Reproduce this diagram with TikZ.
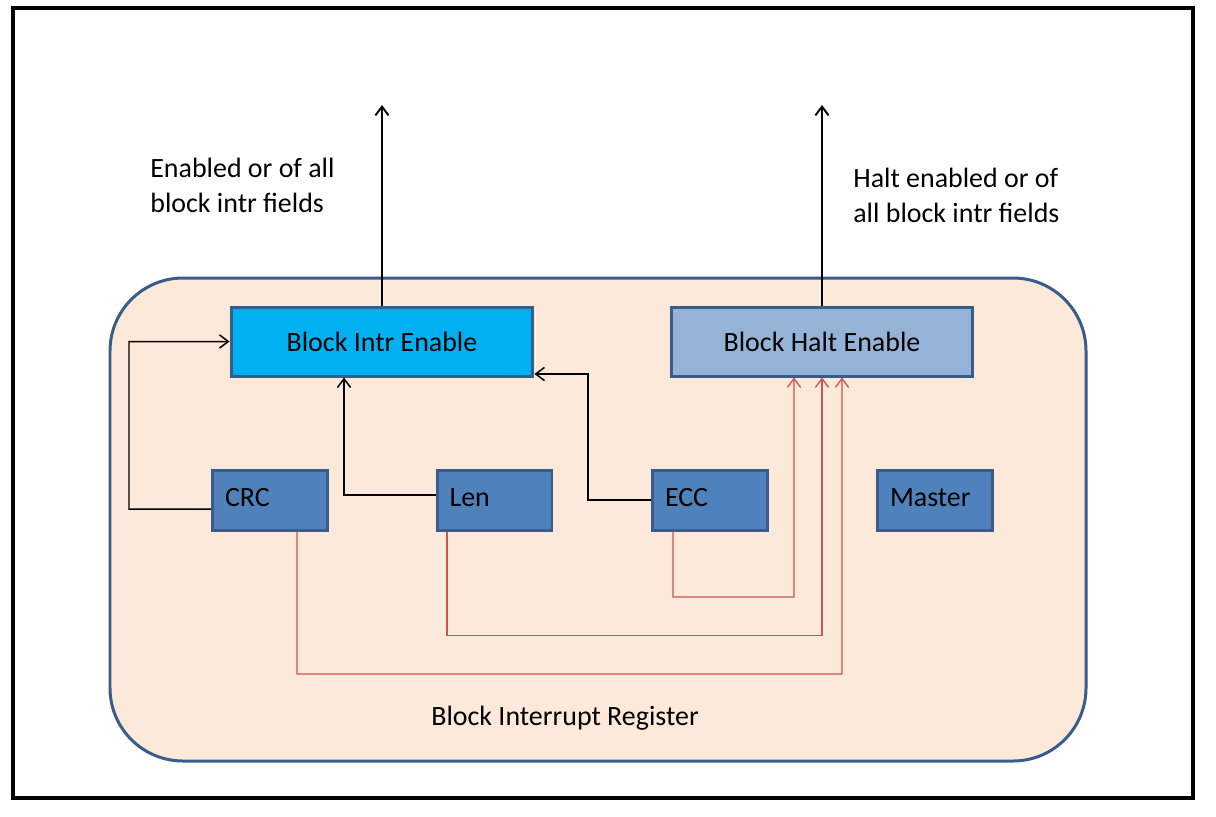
\documentclass[tikz,border=0pt]{standalone}
\usepackage{fontspec}
\setmainfont{Carlito}
\usetikzlibrary{arrows.meta, positioning}
\definecolor{regfill}{RGB}{252,233,218}
\definecolor{regline}{RGB}{56,93,138}
\definecolor{intrblue}{RGB}{0,176,240}
\definecolor{haltblue}{RGB}{149,179,215}
\definecolor{fieldblue}{RGB}{79,129,189}
\definecolor{haltred}{RGB}{200,85,80}

\begin{document}
\begin{tikzpicture}[x=0.02cm, y=-0.02cm,
    font=\fontsize{15.9}{20}\selectfont,
    enbox/.style={rectangle, draw=regline, line width=1.7pt, minimum width=6.04cm, minimum height=1.38cm},
    field/.style={rectangle, draw=regline, fill=fieldblue, line width=1.7pt, minimum width=2.3cm, minimum height=1.2cm,
        inner xsep=0.25cm, text width=1.8cm, align=left, text height=0.36cm, text depth=0.12cm},
    wire/.style={-{Straight Barb[length=5pt, width=7.5pt]}, line width=0.85pt},
    haltwire/.style={wire, haltred, line width=0.75pt},
    note/.style={align=left, anchor=west, inner sep=0pt}]

    \useasboundingbox (0,0) rectangle (1216,816);
    \fill[white] (0,0) rectangle (1216,816);
    \draw[line width=0.08cm] (13,8) rectangle (1193,798);

    % Register
    \draw[fill=regfill, draw=regline, line width=1.7pt, rounded corners=1.46cm] (110,278) rectangle (1086,761);
    \node[anchor=base] (regname) at (565,725) {Block Interrupt Register};

    % Enable boxes
    \node[enbox, fill=intrblue] (intr) at (382,341.5) {Block Intr Enable};
    \node[enbox, fill=haltblue] (haltbox) at (822,341.5) {Block Halt Enable};

    % Fields
    \node[field] (crc) at (270,500) {CRC};
    \node[field] (len) at (494.5,500) {Len};
    \node[field] (ecc) at (710,500) {ECC};
    \node[field] (master) at (935,500) {Master};

    % Outputs
    \coordinate (introut) at (382,105);
    \coordinate (haltout) at (822,105);
    \draw[wire, line width=1.1pt] (intr.north) -- (introut);
    \draw[wire, line width=1.1pt] (haltbox.north) -- (haltout);
    \node[note] (intrnote) at (150,185) {Enabled or of all\\block intr fields};
    \node[note] (haltnote) at (853,195) {Halt enabled or of\\all block intr fields};

    % Interrupt enable paths
    \coordinate (crcbend) at (129,509);
    \coordinate (eccbend) at (588,374);
    \draw[wire] ([yshift=-0.18cm]crc.west) -- (crcbend) |- (intr.west);
    \draw[wire] ([yshift=0.1cm]len.west) -| ([xshift=-0.76cm]intr.south);
    \draw[wire] (ecc.west) -| (eccbend) -- (eccbend -| intr.east);

    % Halt enable paths
    \draw[haltwire] ([xshift=-0.74cm]ecc.south) |- (794,597) -- ([xshift=-0.56cm]haltbox.south);
    \draw[haltwire] ([xshift=-0.95cm]len.south) |- (822,635.5) -- (haltbox.south);
    \draw[haltwire] ([xshift=0.54cm]crc.south) |- (842,674) -- ([xshift=0.4cm]haltbox.south);
\end{tikzpicture}
\end{document}
